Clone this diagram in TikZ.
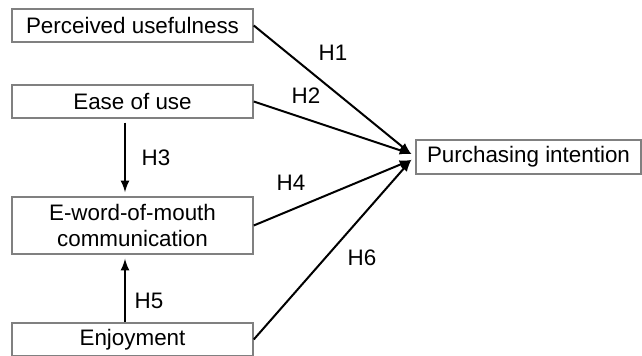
\documentclass[tikz,border=0pt]{standalone}
\usepackage{fontspec}
\setmainfont{Liberation Sans}
\usetikzlibrary{arrows}

\begin{document}
\begin{tikzpicture}[x=0.5pt,y=-0.5pt]

	\tikzstyle construct box=[draw=gray,line width=0.75pt,minimum width=120.5pt,minimum height=16.5pt,inner sep=0pt,align=center,font=\fontsize{11.2}{13}\selectfont];
	\tikzstyle path lines=[-latex,line width=1pt];
	\tikzstyle hypothesis=[font=\fontsize{11.2}{13}\selectfont,inner sep=0pt];

	\useasboundingbox (0,0) rectangle (642,356);

	\node[construct box] (pu) at (132.5,25.5) {Perceived usefulness};
	\node[construct box] (eou) at (132.5,101.5) {Ease of use};
	\node[construct box,minimum height=28.5pt] (ewom) at (132.5,225.5) {E-word-of-mouth\\communication};
	\node[construct box] (enj) at (132.5,339.5) {Enjoyment};
	\node[construct box,minimum width=112.5pt,minimum height=17pt] (pi) at (528.5,157) {Purchasing intention};

		\foreach \src in {pu,eou}
			\draw[path lines] (\src.east) -- ([xshift=-2pt,yshift=1.5pt]pi.west);
		\foreach \src in {ewom,enj}
			\draw[path lines] (\src.east) -- ([xshift=-2pt,yshift=-1.5pt]pi.west);

		\draw[path lines,shorten <=2pt,shorten >=2pt] ([xshift=-3.75pt]eou.south) -- ([xshift=-3.75pt]ewom.north);
		\draw[path lines,shorten <=0pt,shorten >=2pt] ([xshift=-3.75pt]enj.north) -- ([xshift=-3.75pt]ewom.south);

	\node[hypothesis] (h1) at (333,53) {H1};
	\node[hypothesis] (h2) at (306,96) {H2};
	\node[hypothesis] (h3) at (156,158) {H3};
	\node[hypothesis] (h4) at (291,183) {H4};
	\node[hypothesis] (h5) at (149,301) {H5};
	\node[hypothesis] (h6) at (362,258) {H6};

\end{tikzpicture}
\end{document}
